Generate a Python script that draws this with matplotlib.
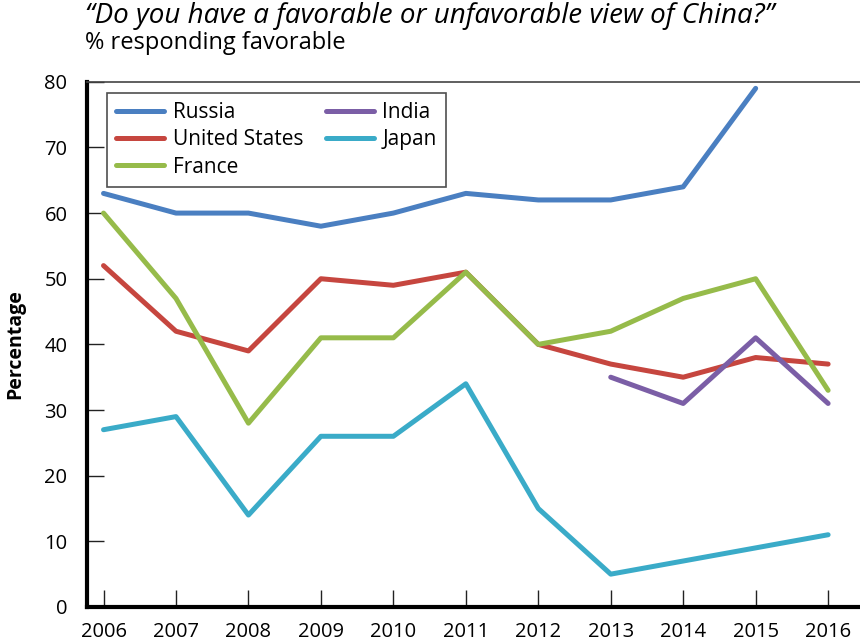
import numpy as np
import matplotlib.pyplot as plt

plt.rcParams['font.family'] = ['Open Sans', 'DejaVu Sans']

years = list(range(2006, 2017))
russia = [63, 60, 60, 58, 60, 63, 62, 62, 64, 79]
usa = [52, 42, 39, 50, 49, 51, 40, 37, 35, 38, 37]
france = [60, 47, 28, 41, 41, 51, 40, 42, 47, 50, 33]
india_years = [2013, 2014, 2015, 2016]
india = [35, 31, 41, 31]
japan = [27, 29, 14, 26, 26, 34, 15, 5, 7, 9, 11]

fig = plt.figure(figsize=(8.6, 6.44), dpi=100)
ax = fig.add_axes([0.101, 0.0575, 0.899, 0.8155])

lw = 3.6
ax.plot(years[:len(russia)], russia, color='#4a7fc1', lw=lw, label='Russia', solid_capstyle='round')
ax.plot(years, usa, color='#c6463f', lw=lw, label='United States', solid_capstyle='round')
ax.plot(years, france, color='#96bb4a', lw=lw, label='France', solid_capstyle='round')
ax.plot(india_years, india, color='#7b5ea6', lw=lw, label='India', solid_capstyle='round')
ax.plot(years, japan, color='#3aabc8', lw=lw, label='Japan', solid_capstyle='round')

ax.set_xlim(2005.77, 2016.44)
ax.set_ylim(0, 80)
ax.set_xticks(years)
ax.set_yticks(range(0, 81, 10))
ax.tick_params(axis='both', direction='in', length=12, width=1, labelsize=14.5, color='#222222')
ax.tick_params(axis='y', pad=14)
ax.tick_params(axis='x', pad=11)

ax.spines['left'].set_linewidth(3)
ax.spines['bottom'].set_linewidth(3)
ax.spines['top'].set_linewidth(1.2)
ax.spines['top'].set_color('#444444')
ax.spines['right'].set_visible(False)

ax.set_ylabel('Percentage', fontsize=14, fontweight='bold', labelpad=14)

leg = ax.legend(ncol=2, loc='upper left', bbox_to_anchor=(0.026, 0.979),
                borderaxespad=0, fontsize=15, frameon=True, fancybox=False,
                edgecolor='#222222', handlelength=2.3, handletextpad=0.4,
                columnspacing=1.1, labelspacing=0.3, borderpad=0.45)
leg.get_frame().set_linewidth(1.2)
for h in leg.get_lines():
    h.set_linewidth(3.6)
    h.set_solid_capstyle('round')

fig.text(0.099, 0.953, '\u201cDo you have a favorable or unfavorable view of China?\u201d',
         fontsize=20, style='italic', ha='left', va='bottom')
fig.text(0.099, 0.914, '% responding favorable', fontsize=17, ha='left', va='bottom')

fig.savefig('out.png', dpi=100)
